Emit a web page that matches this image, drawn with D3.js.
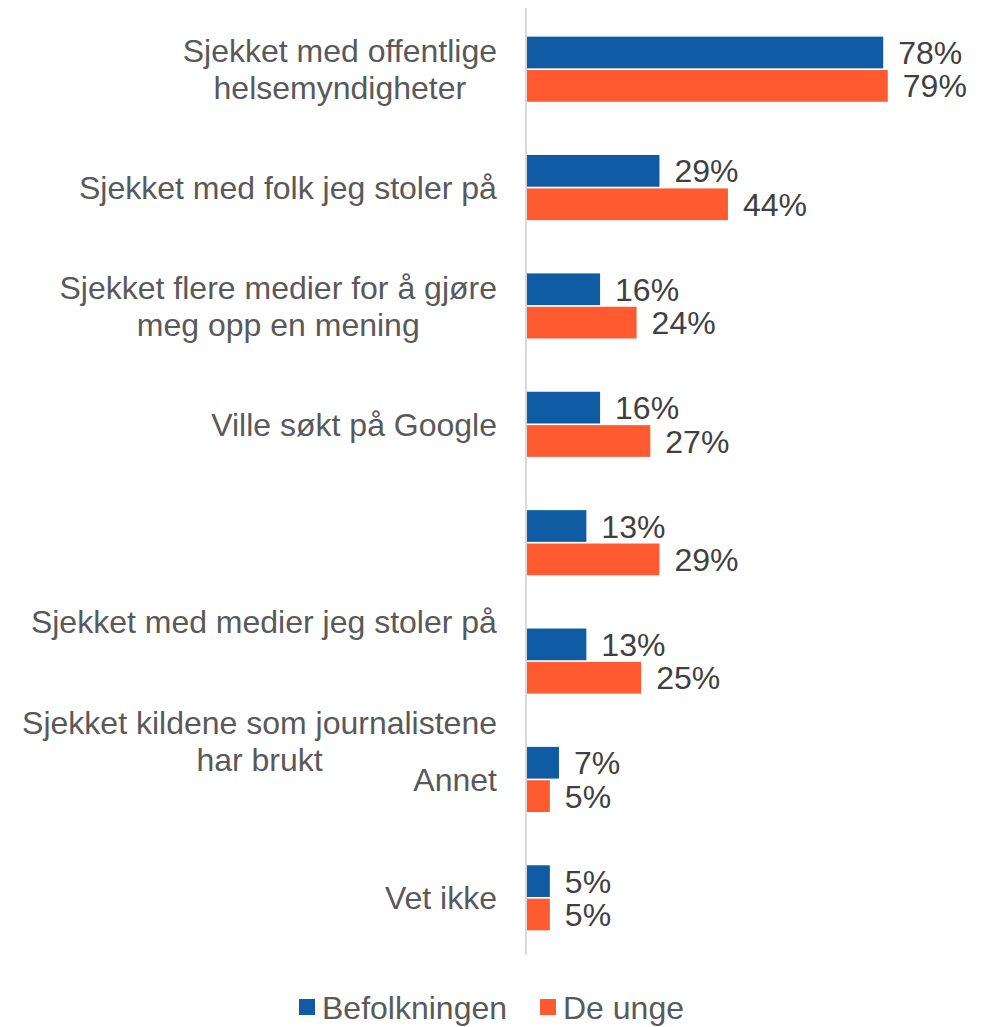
<!DOCTYPE html>
<html>
<head>
<meta charset="utf-8">
<script src="https://cdn.jsdelivr.net/npm/d3@7"></script>
<style>
  body { margin: 0; background: #fff; }
  svg { display: block; font-family: "Liberation Sans", Arial, sans-serif; }
</style>
</head>
<body>
<div id="chart"></div>
<script>
// categories, top to bottom
const categories = [
    ["Sjekket med offentlige", "helsemyndigheter"],
    ["Sjekket med folk jeg stoler på"],
    ["Sjekket flere medier for å gjøre", "meg opp en mening"],
    ["Ville søkt på Google"],
    ["Sjekket med medier jeg stoler på"],
    ["Sjekket kildene som journalistene", "har brukt"],
    ["Annet"],
    ["Vet ikke"]
];
const seriesNames = ["Befolkningen", "De unge"];
const befolkningen = [78, 29, 16, 16, 13, 13, 7, 5];
const deUnge = [79, 44, 24, 27, 29, 25, 5, 5];

const colors = ["#0F5CA5", "#FF5A30"];

const width = 992, height = 1027;
const x0 = 526;
const fontSize = 32;

const svg = d3.select("#chart").append("svg")
    .attr("width", width)
    .attr("height", height);

const x = d3.scaleLinear().domain([0, 100]).range([x0, x0 + 456.7]);

const y = d3.scaleBand()
    .domain(d3.range(categories.length))
    .range([10, 957])
    .paddingInner(0.45)
    .paddingOuter(0.225);

const ySub = d3.scaleBand()
    .domain([0, 1])
    .range([0, y.bandwidth()])
    .paddingInner(0.05);

const rows = categories.map((c, i) => ({
    label: c,
    values: [befolkningen[i], deUnge[i]]
}));

// the source chart drew two labels one slot low
const labelShift = {4: 79, 5: 80};

// axis line
svg.append("line")
    .attr("x1", x(0)).attr("x2", x(0))
    .attr("y1", 8).attr("y2", 955)
    .attr("stroke", "#d9d9d9")
    .attr("stroke-width", 2);

const g = svg.selectAll("g.row")
    .data(rows)
    .join("g")
    .attr("class", "row")
    .attr("transform", (d, i) => `translate(0,${y(i)})`);

g.selectAll("rect")
    .data(d => d.values)
    .join("rect")
    .attr("x", x(0) + 1)
    .attr("y", (v, j) => ySub(j))
    .attr("width", v => x(v) - x(0))
    .attr("height", ySub.bandwidth())
    .attr("fill", (v, j) => colors[j]);

g.selectAll("text.val")
    .data(d => d.values)
    .join("text")
    .attr("class", "val")
    .attr("x", v => x(v) + 16)
    .attr("y", (v, j) => ySub(j) + ySub.bandwidth() / 2)
    .attr("dy", "0.36em")
    .attr("font-size", fontSize)
    .attr("fill", "#404040")
    .text(v => v + "%");

g.append("text")
    .attr("class", "cat")
    .attr("text-anchor", "middle")
    .attr("font-size", fontSize)
    .attr("fill", "#595959")
    .each(function (d, i) {
        const t = d3.select(this);
        const n = d.label.length;
        const cy = y.bandwidth() / 2 + (labelShift[i] || 0);
        // right-align longest line, centre the others on it
        d.label.forEach((line, k) => {
            t.append("tspan")
                .attr("x", 0)
                .attr("y", cy + (k - (n - 1) / 2) * 37)
                .attr("dy", "0.36em")
                .text(line);
        });
        const w = this.getBBox().width;
        t.attr("transform", `translate(${497 - w / 2},0)`);
    });

// legend
const legend = svg.append("g").attr("transform", "translate(299,1007)");
const items = [{name: seriesNames[0], x: 0}, {name: seriesNames[1], x: 241}];
items.forEach((it, j) => {
    legend.append("rect")
        .attr("x", it.x).attr("y", -8)
        .attr("width", 16).attr("height", 16)
        .attr("fill", colors[j]);
    legend.append("text")
        .attr("x", it.x + 23).attr("y", 0)
        .attr("dy", "0.36em")
        .attr("font-size", fontSize)
        .attr("fill", "#595959")
        .text(it.name);
});
</script>
</body>
</html>
